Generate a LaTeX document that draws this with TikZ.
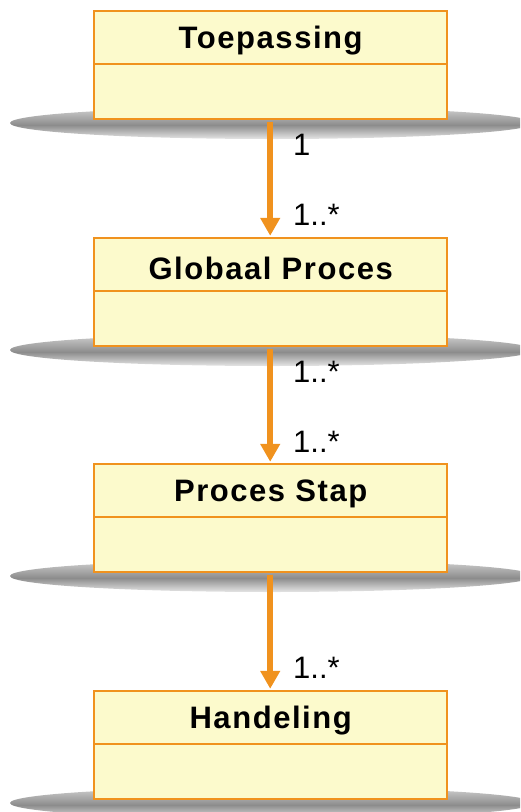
\documentclass[tikz,border=0pt]{standalone}
\usepackage{fontspec}
\setmainfont{Liberation Sans}
\newfontfamily\titlefont[LetterSpace=5]{Liberation Sans}
\usetikzlibrary{arrows.meta}
\definecolor{boxfill}{HTML}{FCFACC}
\definecolor{boxline}{HTML}{F0921E}
\begin{document}
\begin{tikzpicture}[x=1pt,y=-1pt,
  classbox/.style={draw=boxline, fill=boxfill, line width=2.4pt, minimum width=353pt, minimum height=108pt, inner sep=0pt, anchor=north west},
  title/.style={font=\titlefont\fontsize{31}{36}\selectfont\bfseries, inner sep=0pt},
  mult/.style={font=\fontsize{31}{36}\selectfont, inner sep=0pt, anchor=west},
  assoc/.style={draw=boxline, line width=6.5pt, -{Triangle[width=19pt,length=18pt]}, shorten <=1.2pt, shorten >=1.2pt}
]
\useasboundingbox (0,0) rectangle (520,812);
\newcommand{\shadowat}[1]{%
  \begin{scope}
    \clip (0,0) rectangle (520,812);
    \clip (272,#1) ellipse (262pt and 16pt);
    \shade[top color=gray!35, bottom color=white, middle color=gray!90] (0,#1-16) rectangle (540,#1+20);
  \end{scope}}
\foreach \y/\name/\txt in {10/b1/Toepassing, 237/b2/Globaal Proces, 463/b3/Proces Stap, 690/b4/Handeling}{
  \shadowat{\y+113}
  \node[classbox] (\name) at (93,\y) {};
  \draw[boxline, line width=2.4pt] ([yshift=-54pt]\name.north west) -- ([yshift=-54pt]\name.north east);
  \node[title] (\name t) at ([yshift=-31pt]\name.north) {\txt};
}
\draw[assoc] ([xshift=-.5pt]b1.south) -- ([xshift=-.5pt]b2.north);
\draw[assoc] ([xshift=-.5pt]b2.south) -- ([xshift=-.5pt]b3.north);
\draw[assoc] ([xshift=-.5pt]b3.south) -- ([xshift=-.5pt]b4.north);
\node[mult] (m1) at (293,145) {1};
\node[mult] (m2) at (293,215) {1..*};
\node[mult] (m3) at (293,372) {1..*};
\node[mult] (m4) at (293,442) {1..*};
\node[mult] (m5) at (293,668) {1..*};
\end{tikzpicture}
\end{document}
